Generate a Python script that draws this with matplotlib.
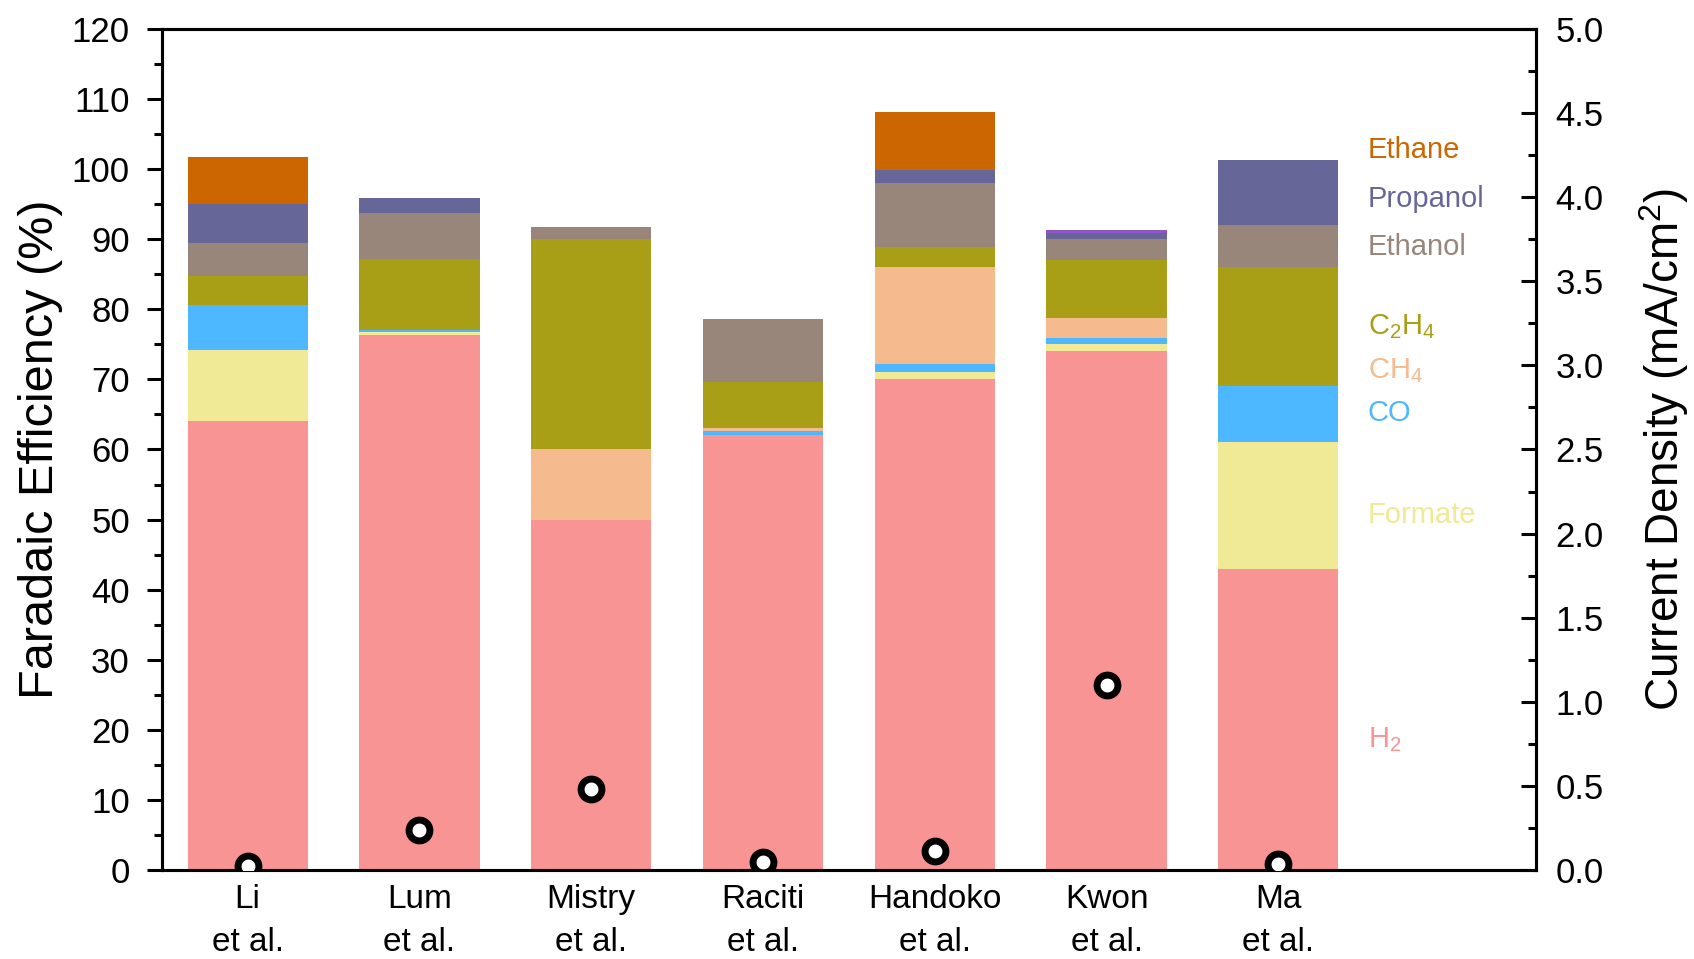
import matplotlib
matplotlib.use("Agg")
import matplotlib.pyplot as plt
from matplotlib.ticker import MultipleLocator, FormatStrFormatter
import numpy as np

plt.rcParams["font.family"] = ["Liberation Sans", "DejaVu Sans"]
plt.rcParams["mathtext.default"] = "regular"

# Studies compared
studies = ["Li\net al.", "Lum\net al.", "Mistry\net al.", "Raciti\net al.",
           "Handoko\net al.", "Kwon\net al.", "Ma\net al."]

# Faradaic efficiency (%) of each product, per study
fe_h2 = [64.0, 76.4, 50.0, 62.0, 70.0, 74.0, 43.0]
fe_formate = [10.2, 0.4, 0.0, 0.0, 1.0, 1.0, 18.0]
fe_co = [6.4, 0.3, 0.0, 0.7, 1.2, 0.9, 8.1]
fe_ch4 = [0.0, 0.0, 10.0, 0.3, 13.9, 2.8, 0.0]
fe_c2h4 = [4.2, 10.1, 30.0, 6.6, 2.8, 8.4, 17.0]
fe_ethanol = [4.6, 6.5, 1.8, 9.0, 9.1, 2.9, 5.9]
fe_propanol = [5.6, 2.2, 0.0, 0.0, 1.9, 0.9, 9.3]
fe_other = [0.0, 0.0, 0.0, 0.0, 0.0, 0.4, 0.0]
fe_ethane = [6.8, 0.0, 0.0, 0.0, 8.2, 0.0, 0.0]

# Current density (mA/cm^2), per study
current_density = [0.025, 0.24, 0.48, 0.05, 0.115, 1.10, 0.036]

products = [
    ("H$_2$", fe_h2, "#F99495"),
    ("Formate", fe_formate, "#F0E995"),
    ("CO", fe_co, "#4DB8FF"),
    ("CH$_4$", fe_ch4, "#F5BA8E"),
    ("C$_2$H$_4$", fe_c2h4, "#A89F16"),
    ("Ethanol", fe_ethanol, "#978679"),
    ("Propanol", fe_propanol, "#676699"),
    (None, fe_other, "#8F55C8"),
    ("Ethane", fe_ethane, "#CC6600"),
]

# Label heights (in % units) for the product key beside the bars
label_y = {"Ethane": 102.7, "Propanol": 95.8, "Ethanol": 88.9, "C$_2$H$_4$": 77.5,
           "CH$_4$": 71.3, "CO": 65.2, "Formate": 50.7, "H$_2$": 18.6}

fig = plt.figure(figsize=(16.94, 9.59), dpi=100)
ax = fig.add_axes([0.0955, 0.0928, 0.9067 - 0.0955, 0.9698 - 0.0928])

x = np.arange(len(studies))
bottom = np.zeros(len(studies))
for name, vals, color in products:
    vals = np.asarray(vals)
    ax.bar(x, vals, width=0.7, bottom=bottom, color=color, linewidth=0, zorder=2)
    bottom += vals
    if name is not None:
        ax.text(6.52, label_y[name], name, color=color, fontsize=21,
                ha="left", va="center")

ax.set_xlim(-0.5, 7.5)
ax.set_ylim(0, 120)
ax.set_xticks(x)
ax.set_xticklabels(studies, fontsize=24, linespacing=1.5)
ax.tick_params(axis="x", length=0, pad=10)
ax.yaxis.set_major_locator(MultipleLocator(10))
ax.yaxis.set_minor_locator(MultipleLocator(5))
ax.tick_params(axis="y", which="major", direction="out", length=11, width=2.2,
               labelsize=25, pad=12)
ax.tick_params(axis="y", which="minor", direction="out", length=6, width=2.2)
ax.set_ylabel("Faradaic Efficiency (%)", fontsize=35, labelpad=6)
for s in ax.spines.values():
    s.set_linewidth(2.2)

ax2 = ax.twinx()
ax2.set_ylim(0, 5.0)
ax2.plot(x, current_density, linestyle="none", marker="o", markersize=15,
         markerfacecolor="white", markeredgecolor="black", markeredgewidth=5,
         zorder=5)
ax2.yaxis.set_major_locator(MultipleLocator(0.5))
ax2.yaxis.set_minor_locator(MultipleLocator(0.25))
ax2.yaxis.set_major_formatter(FormatStrFormatter("%.1f"))
ax2.tick_params(axis="y", which="major", direction="in", length=11, width=2.2,
                labelsize=25, pad=14)
ax2.tick_params(axis="y", which="minor", direction="in", length=6, width=2.2)
ax2.set_ylabel("Current Density (mA/cm$^2$)", fontsize=33, labelpad=24)
for s in ax2.spines.values():
    s.set_linewidth(2.2)

fig.savefig("out.png", dpi=100)
